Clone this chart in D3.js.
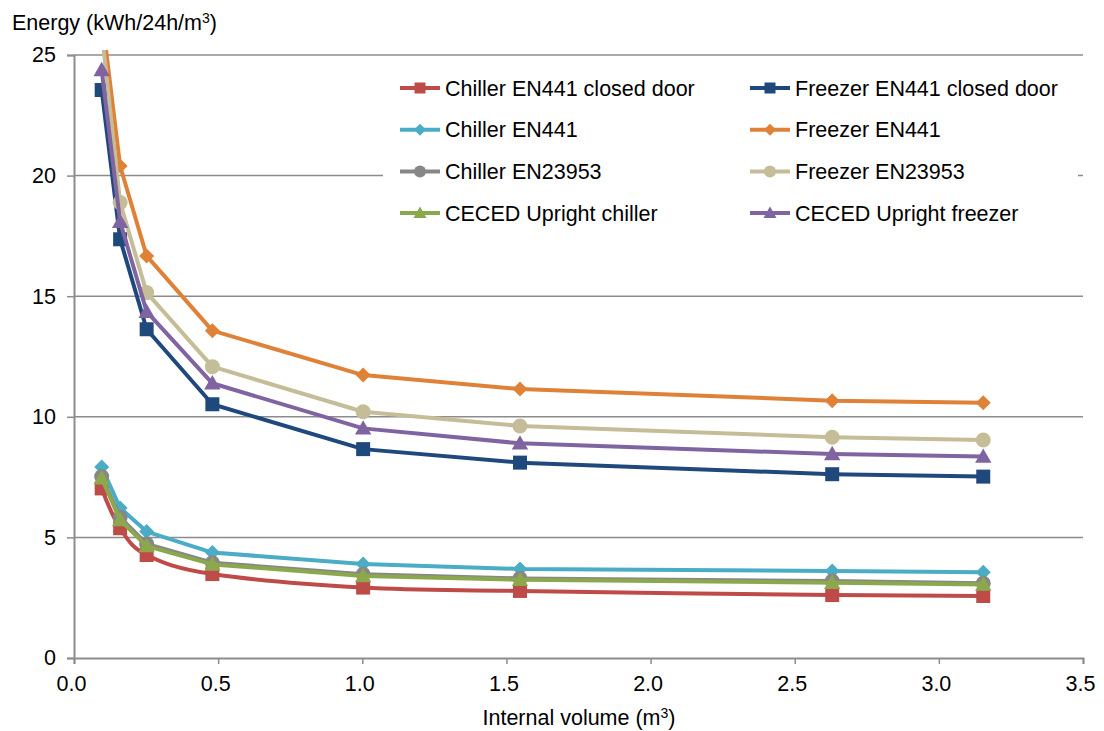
<!DOCTYPE html>
<html><head><meta charset="utf-8">
<script src="https://cdn.jsdelivr.net/npm/d3@7"></script>
<style>
body{margin:0;background:#fff;}
svg text{font-family:"Liberation Sans",Arial,sans-serif;fill:#000;}
</style></head>
<body><svg id="c" width="1104" height="731"></svg>
<script>
const volumes = [0.096, 0.16, 0.252, 0.48, 1.003, 1.547, 2.63, 3.154];
const seriesNames = ["Chiller EN441 closed door","Freezer EN441 closed door","Chiller EN441","Freezer EN441","Chiller EN23953","Freezer EN23953","CECED Upright chiller","CECED Upright freezer"];
const chillerClosed = [7.03, 5.38, 4.27, 3.48, 2.92, 2.78, 2.61, 2.57];
const freezerClosed = [23.55, 17.36, 13.63, 10.52, 8.66, 8.10, 7.62, 7.52];
const chillerEN441 = [7.92, 6.22, 5.24, 4.37, 3.90, 3.69, 3.61, 3.55];
const freezerEN441 = [26.7, 20.4, 16.67, 13.57, 11.73, 11.15, 10.67, 10.58];
const chillerEN23953 = [7.52, 5.83, 4.73, 3.95, 3.47, 3.30, 3.19, 3.10];
const freezerEN23953 = [26.0, 18.88, 15.15, 12.08, 10.21, 9.62, 9.15, 9.04];
const cecedChiller = [7.45, 5.72, 4.64, 3.88, 3.40, 3.24, 3.12, 3.05];
const cecedFreezer = [24.38, 18.09, 14.36, 11.39, 9.52, 8.90, 8.46, 8.35];
const xTicks = [0, 0.5, 1.0, 1.5, 2.0, 2.5, 3.0, 3.5];
const yTicks = [0, 5, 10, 15, 20, 25];

const seriesValues = [chillerClosed, freezerClosed, chillerEN441, freezerEN441, chillerEN23953, freezerEN23953, cecedChiller, cecedFreezer];
const colors = ["#BE4B48","#1F497D","#4BACC6","#DF8238","#878787","#C4BD97","#8BA94C","#8064A2"];
const markers = ["square","square","diamond","diamond","circle","circle","triangle","triangle"];
const smooth = [true,false,false,false,false,false,false,false];

const svg = d3.select("#c");
const x = d3.scaleLinear().domain([0,3.5]).range([74,1083]);
const y = d3.scaleLinear().domain([0,25]).range([658,55]);
const gridCol = "#8c8c8c";
const FS = 21.5;

svg.append("g").selectAll("line").data(yTicks.filter(d=>d>0)).join("line")
  .attr("x1",x(0)).attr("x2",x(3.5)).attr("y1",d=>y(d)).attr("y2",d=>y(d))
  .attr("stroke",gridCol).attr("stroke-width",1.5);

const xAxis = svg.append("g").attr("transform",`translate(0,${y(0)})`)
  .call(d3.axisBottom(x).tickValues(xTicks).tickFormat(d3.format(".1f")).tickSize(6).tickPadding(12));
const yAxis = svg.append("g").attr("transform",`translate(${x(0)},0)`)
  .call(d3.axisLeft(y).tickValues(yTicks).tickSize(7).tickPadding(11));
[xAxis,yAxis].forEach(g=>{
  g.select(".domain").attr("stroke",gridCol).attr("stroke-width",2);
  g.selectAll(".tick line").attr("stroke",gridCol).attr("stroke-width",1.5);
  g.selectAll(".tick text").attr("font-size",FS).attr("fill","#000")
   .attr("font-family","'Liberation Sans',Arial,sans-serif");
});
xAxis.selectAll(".tick text").attr("dx",-3);

svg.append("clipPath").attr("id","clip").append("rect")
  .attr("x",x(0)).attr("y",50).attr("width",x(3.5)-x(0)+10).attr("height",y(0)-50);

const plot = svg.append("g").attr("clip-path","url(#clip)");

function markerPath(type, s){
  // s = half-size in px
  if(type==="square") return `M${-s},${-s}H${s}V${s}H${-s}Z`;
  if(type==="diamond") return `M0,${-s}L${s},0L0,${s}L${-s},0Z`;
  if(type==="circle") return `M${s},0A${s},${s} 0 1,1 ${-s},0A${s},${s} 0 1,1 ${s},0Z`;
  if(type==="triangle") return `M0,${-s*1.05}L${s*1.05},${s*0.8}L${-s*1.05},${s*0.8}Z`;
}
const mSize = {square:7, diamond:7.5, circle:7.5, triangle:7.8};
const lSize = {square:5.5, diamond:6, circle:6, triangle:6.2};

seriesValues.forEach((vals,i)=>{
  const pts = vals.map((v,j)=>[volumes[j],v]);
  const line = d3.line().x(d=>x(d[0])).y(d=>y(d[1]))
    .curve(smooth[i]? d3.curveCatmullRom.alpha(0) : d3.curveLinear);
  const g = plot.append("g");
  g.append("path").attr("d",line(pts)).attr("fill","none")
    .attr("stroke",colors[i]).attr("stroke-width",4).attr("stroke-linejoin","round");
  g.selectAll("path.m").data(pts).join("path").attr("class","m")
    .attr("transform",d=>`translate(${x(d[0])},${y(d[1])})`)
    .attr("d",markerPath(markers[i], mSize[markers[i]]))
    .attr("fill",colors[i]);
});

const lg = svg.append("g");
lg.append("rect").attr("x",383).attr("y",62).attr("width",695).attr("height",174).attr("fill","#fff");
seriesNames.forEach((n,i)=>{
  const col = i%2, row = Math.floor(i/2);
  const lx = col===0? 400 : 750;
  const ly = 88 + row*41.7;
  lg.append("line").attr("x1",lx).attr("x2",lx+40).attr("y1",ly).attr("y2",ly)
    .attr("stroke",colors[i]).attr("stroke-width",4);
  lg.append("path").attr("transform",`translate(${lx+20},${ly})`)
    .attr("d",markerPath(markers[i], lSize[markers[i]])).attr("fill",colors[i]);
  lg.append("text").attr("x",lx+45).attr("y",ly).attr("dy","0.36em")
    .attr("font-size",FS).text(n);
});

const yt = svg.append("text").attr("x",12).attr("y",30).attr("font-size",FS);
yt.append("tspan").text("Energy (kWh/24h/m");
yt.append("tspan").attr("font-size",14).attr("dy",-7).text("3");
yt.append("tspan").attr("dy",7).text(")");
const xt = svg.append("text").attr("x",579).attr("y",725).attr("font-size",FS).attr("text-anchor","middle");
xt.append("tspan").text("Internal volume (m");
xt.append("tspan").attr("font-size",14).attr("dy",-7).text("3");
xt.append("tspan").attr("dy",7).text(")");
</script></body></html>
